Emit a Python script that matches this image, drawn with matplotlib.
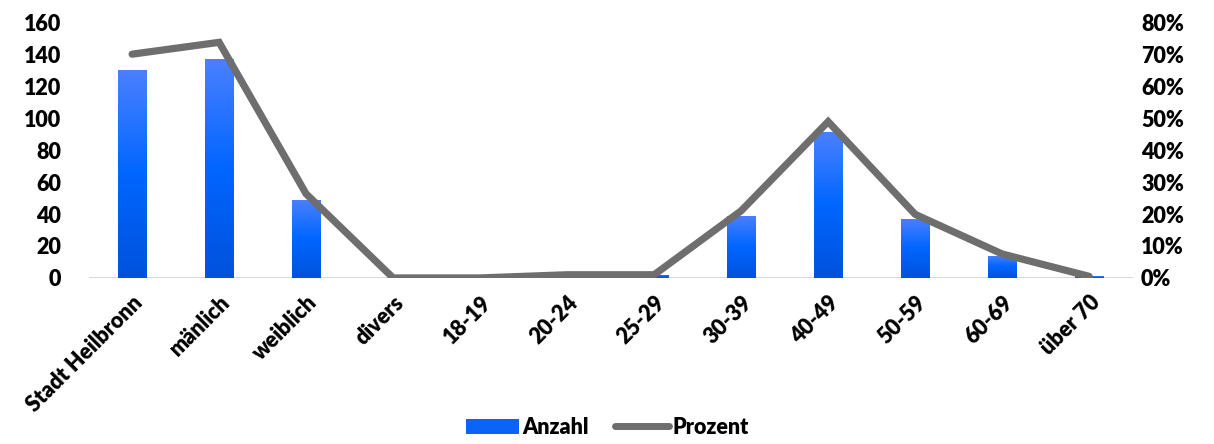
import matplotlib.pyplot as plt
import numpy as np
from matplotlib.ticker import FuncFormatter
from matplotlib.colors import LinearSegmentedColormap
from matplotlib.patches import Patch
from matplotlib.lines import Line2D

categories = ['Stadt Heilbronn', 'mänlich', 'weiblich', 'divers', '18-19', '20-24',
              '25-29', '30-39', '40-49', '50-59', '60-69', 'über 70']
anzahl = [130, 137, 49, 0, 0, 2, 2, 39, 91, 37, 14, 1]
prozent = [70, 73.7, 26.3, 0, 0, 1, 1, 21, 48.9, 19.9, 7.5, 0.5]

plt.rcParams['font.family'] = ['Lato', 'DejaVu Sans']
plt.rcParams['font.weight'] = 'heavy'

fig = plt.figure(figsize=(12.14, 4.44), dpi=100)
ax = fig.add_axes([0.073, 0.374, 0.86, 0.576])
ax2 = ax.twinx()

x = np.arange(len(categories))
bar_w = 0.33

# Balken mit Farbverlauf (oben heller)
grad = LinearSegmentedColormap.from_list('g', ['#0052dc', '#0066ff', '#4a80ff'])
bars = ax.bar(x, anzahl, width=bar_w, color='#0a64f5', label='Anzahl', zorder=2)
for b in bars:
    h = b.get_height()
    if h <= 0:
        continue
    x0 = b.get_x()
    img = ax.imshow(np.linspace(0, 1, 100).reshape(-1, 1), cmap=grad, origin='lower',
                    extent=[x0, x0 + bar_w, 0, h], aspect='auto', zorder=2)
    img.set_clip_path(b)
    b.set_facecolor('none')

ax2.plot(x, prozent, color='#6e6e6e', linewidth=5.2, solid_capstyle='round',
         solid_joinstyle='miter', zorder=3)

ax.set_xlim(-0.5, len(categories) - 0.5)
ax.set_ylim(0, 160)
ax.set_yticks(range(0, 161, 20))
ax2.set_ylim(0, 80)
ax2.set_yticks(range(0, 81, 10))
ax2.yaxis.set_major_formatter(FuncFormatter(lambda v, p: f'{int(v)}%'))

ax.set_xticks(x)
ax.set_xticklabels(categories, rotation=45, ha='right', rotation_mode='anchor')

for a in (ax, ax2):
    for s in a.spines.values():
        s.set_visible(False)
    a.tick_params(length=0, labelsize=15.5, colors='#000000')
ax.tick_params(axis='x', pad=10)
ax.tick_params(axis='y', pad=20)
ax2.tick_params(axis='y', pad=6)
ax.axhline(0, color='#d9d9d9', linewidth=1.5, zorder=1)

leg_handles = [Patch(facecolor='#0a64f5', label='Anzahl'),
               Line2D([0], [0], color='#6e6e6e', linewidth=5, solid_capstyle='round', label='Prozent')]
fig.legend(handles=leg_handles, loc='lower center', bbox_to_anchor=(0.5, -0.03), ncol=2,
           frameon=False, fontsize=15.5, handlelength=2.5, handletextpad=0.15, columnspacing=1.2)

plt.savefig('out.png', dpi=100)
